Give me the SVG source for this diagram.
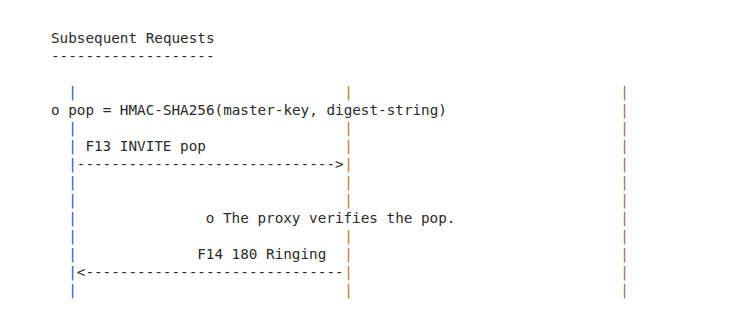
<svg xmlns="http://www.w3.org/2000/svg" width="755" height="321" viewBox="0 0 755 321">
  <style>
    text { font-family: "DejaVu Sans Mono", "Liberation Mono", monospace; font-size: 14.3px; fill: #2b2b2b; white-space: pre; }
    .pipe-ua { fill: #2f56c0; }
    .pipe-proxy { fill: #c9722a; }
    .pipe-uas { fill: #96704c; }
  </style>
  <rect width="755" height="321" fill="#ffffff"/>

  <!-- heading, grid: column width 8.6px from x=51, rows 18px from baseline 43 -->
  <g id="heading">
    <text x="51" y="43">Subsequent Requests</text>
    <text x="51" y="61">-------------------</text>
  </g>

  <!-- lifeline: user agent (column 2) -->
  <g id="lifeline-ua">
    <text class="pipe-ua"><tspan x="68.2" y="97">|</tspan><tspan x="68.2" y="133">|</tspan><tspan x="68.2" y="151">|</tspan><tspan x="68.2" y="169">|</tspan><tspan x="68.2" y="187">|</tspan><tspan x="68.2" y="205">|</tspan><tspan x="68.2" y="223">|</tspan><tspan x="68.2" y="241">|</tspan><tspan x="68.2" y="259">|</tspan><tspan x="68.2" y="277">|</tspan><tspan x="68.2" y="295">|</tspan></text>
  </g>

  <!-- lifeline: proxy (column 34) -->
  <g id="lifeline-proxy">
    <text class="pipe-proxy"><tspan x="344.2" y="97">|</tspan><tspan x="344.2" y="133">|</tspan><tspan x="344.2" y="151">|</tspan><tspan x="344.2" y="169">|</tspan><tspan x="344.2" y="187">|</tspan><tspan x="344.2" y="205">|</tspan><tspan x="344.2" y="241">|</tspan><tspan x="344.2" y="259">|</tspan><tspan x="344.2" y="277">|</tspan><tspan x="344.2" y="295">|</tspan></text>
  </g>

  <!-- lifeline: far end (column 66) -->
  <g id="lifeline-uas">
    <text class="pipe-uas"><tspan x="620.2" y="97">|</tspan><tspan x="620.2" y="115">|</tspan><tspan x="620.2" y="133">|</tspan><tspan x="620.2" y="151">|</tspan><tspan x="620.2" y="169">|</tspan><tspan x="620.2" y="187">|</tspan><tspan x="620.2" y="205">|</tspan><tspan x="620.2" y="223">|</tspan><tspan x="620.2" y="241">|</tspan><tspan x="620.2" y="259">|</tspan><tspan x="620.2" y="277">|</tspan><tspan x="620.2" y="295">|</tspan></text>
  </g>

  <!-- notes -->
  <g id="note-pop">
    <text x="51" y="115">o pop = HMAC-SHA256(master-key, digest-string)</text>
  </g>
  <g id="note-verify">
    <text x="205.8" y="223">o The proxy verifies the pop.</text>
  </g>

  <!-- message arrows -->
  <g id="connectors">
    <g id="msg-f13">
      <text x="85.4" y="151">F13 INVITE pop</text>
      <text x="76.8" y="169">------------------------------&gt;</text>
    </g>
    <g id="msg-f14">
      <text x="197.2" y="259">F14 180 Ringing</text>
      <text x="76.8" y="277">&lt;------------------------------</text>
    </g>
  </g>
</svg>
